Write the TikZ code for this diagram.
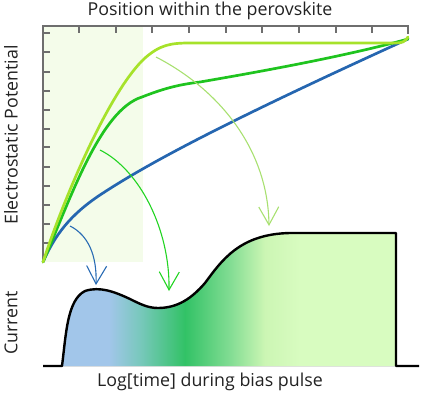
\documentclass[tikz,border=0pt]{standalone}
\usepackage{fontspec}
\setmainfont{Open Sans}
\usetikzlibrary{arrows.meta}
\definecolor{axisgray}{HTML}{6E6E6E}
\definecolor{shadebox}{HTML}{F4FCEA}
\definecolor{cLight}{HTML}{A6E22A}
\definecolor{cGreen}{HTML}{1FC41F}
\definecolor{cBlue}{HTML}{2566B0}
\definecolor{aLight}{HTML}{A8E070}
\definecolor{aGreen}{HTML}{22D422}
\definecolor{aBlue}{HTML}{2A6CB4}
\definecolor{sBlue}{HTML}{A2C6EA}
\definecolor{sTeal}{HTML}{78C8BC}
\definecolor{sGreen}{HTML}{32C266}
\definecolor{sMid}{HTML}{80DC92}
\definecolor{sPale}{HTML}{CCF6B4}
\definecolor{sEnd}{HTML}{D8FCC0}
\definecolor{textdark}{HTML}{222222}
\pgfdeclarehorizontalshading{currentshade}{100bp}{%
  color(0bp)=(sBlue); color(25bp)=(sBlue); color(32bp)=(sBlue);
  color(36.7bp)=(sTeal); color(43.4bp)=(sGreen); color(50bp)=(sMid);
  color(55.4bp)=(sPale); color(60.6bp)=(sEnd); color(75bp)=(sEnd); color(100bp)=(sEnd)}
\tikzset{
  axisline/.style={draw=axisgray, line width=1.1pt},
  potcurve/.style={line width=2.7pt, line cap=round},
  movearrow/.style={line width=1.1pt, -{Straight Barb[length=18pt,width=20pt,line width=1.1pt]}},
  labeltext/.style={font=\fontsize{17.8}{20}\selectfont, text=textdark, inner sep=0pt}
}
\begin{document}
\begin{tikzpicture}[x=1pt,y=-1pt]
\useasboundingbox (0,0) rectangle (421,394);
% shaded region
\fill[shadebox] (43,26) rectangle (143,262);
% axes
\coordinate (origin) at (43,262);
\coordinate (topleft) at (43,26);
\coordinate (topright) at (408,26);
\draw[axisline] (origin) -- (topleft) -- (topright) -- ++(0,8);
\foreach \x in {79,116,152,189,226,262,299,336,372}
  \draw[axisline] (\x,26) -- ++(0,7);
\foreach \y in {33,52,72,91,110,129,147,167,186,205,224,243}
  \draw[axisline] (43,\y) -- ++(7,0);
% potential curves
\coordinate (endpt) at (408,39);
\draw[potcurve, cBlue] (origin) .. controls (55,235) and (70,215) .. (100,195)
   .. controls (150,162) and (230,120) .. (endpt);
\draw[potcurve, cGreen] (origin) .. controls (70,200) and (100,110) .. (142,97)
   .. controls (160,90) and (175,85) .. (200,82)
   .. controls (270,70) and (350,55) .. (endpt);
\draw[potcurve, cLight] (origin) .. controls (65,195) and (110,90) .. (145,58)
   .. controls (160,45) and (170,43) .. (190,43) -- (395,43)
   .. controls (402,43) and (405,42) .. (408,37);
% current curve
\fill[shading=currentshade] (62,366) .. controls (66,335) and (67,300) .. (85,291)
   .. controls (100,286) and (115,292) .. (130,299)
   .. controls (140,304) and (148,308) .. (158,308)
   .. controls (178,308) and (192,298) .. (205,283)
   .. controls (222,260) and (240,234) .. (290,233) -- (396,233) -- (396,366) -- cycle;
\coordinate (c0) at (43,366);
\coordinate (c1) at (419,366);
\draw[line width=2.4pt, line join=round] (c0) -- (62,366) .. controls (66,335) and (67,300) .. (85,291)
   .. controls (100,286) and (115,292) .. (130,299)
   .. controls (140,304) and (148,308) .. (158,308)
   .. controls (178,308) and (192,298) .. (205,283)
   .. controls (222,260) and (240,234) .. (290,233) -- (396,233) -- (396,366) -- (c1);
% arrows
\coordinate (bs) at (70,226); \coordinate (be) at (96,285);
\coordinate (gs) at (100,150); \coordinate (ge) at (169,291);
\coordinate (ls) at (156,57); \coordinate (le) at (269,226);
\draw[movearrow, aBlue] (bs) .. controls (88,235) and (97,255) .. (be);
\draw[movearrow, aGreen] (gs) .. controls (140,170) and (170,230) .. (ge);
\draw[movearrow, aLight] (ls) .. controls (220,90) and (268,150) .. (le);
% labels
\node[labeltext] (ttop) at (210,11) {Position within the perovskite};
\node[labeltext] (tbot) at (210,382) {Log[time] during bias pulse};
\node[labeltext, rotate=90] (tleft) at (11,135) {Electrostatic Potential};
\node[labeltext, rotate=90] (tcur) at (11,323) {Current};
\end{tikzpicture}
\end{document}
